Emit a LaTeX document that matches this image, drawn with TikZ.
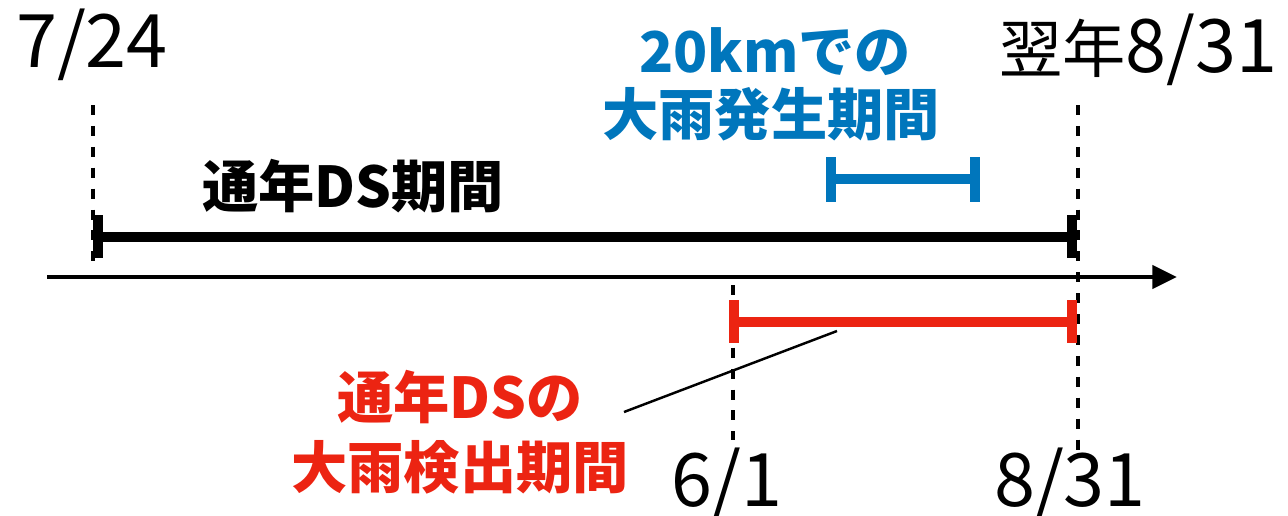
\documentclass[tikz,border=0pt]{standalone}
\usepackage{fontspec}
\setmainfont{Noto Sans CJK JP}
\usetikzlibrary{arrows.meta}
\definecolor{cblue}{RGB}{0,118,188}
\definecolor{cred}{RGB}{236,36,18}
\newcommand{\dg}[1]{{\fontsize{42}{42}\selectfont #1}}
\tikzset{
  lbl/.style={anchor=base,inner sep=0pt,font=\fontsize{36}{36}\selectfont},
  head/.style={anchor=base,inner sep=0pt,font=\fontsize{32}{32}\selectfont\bfseries},
  guide/.style={line width=2.8pt,dash pattern=on 5.7pt off 6.2pt},
  bar/.style={line width=5.4pt},
  capline/.style={line width=5.6pt},
  axis/.style={line width=2.8pt,-{Triangle[length=14pt,width=13pt]}},
  leader/.style={line width=1.4pt}
}
\begin{document}
\begin{tikzpicture}[x=0.02cm,y=-0.02cm]
\useasboundingbox (0,0) rectangle (1288,515);
% coordinates
\coordinate (gA1) at (93,105);  \coordinate (gA2) at (93,262);
\coordinate (gB1) at (1078,105); \coordinate (gB2) at (1078,450);
\coordinate (gC1) at (733,285);  \coordinate (gC2) at (733,440);
\coordinate (ax1) at (47,277);   \coordinate (ax2) at (1177,277);
% guides
\draw[guide] (gA1) -- (gA2);
\draw[guide] (gB1) -- (gB2);
\draw[guide] (gC1) -- (gC2);
% axis
\draw[axis] (ax1) -- (ax2);
% black bar
\coordinate (k1) at (93,237); \coordinate (k2) at (1077,237);
\draw[bar] (k1) -- (k2);
\draw[capline] (98,215) -- (98,258);
\draw[capline] (1072,215) -- (1072,258);
% red bar
\coordinate (r1) at (733,322); \coordinate (r2) at (1077,322);
\draw[bar,cred] (r1) -- (r2);
\draw[capline,cred] (734,300) -- (734,343);
\draw[capline,cred] (1072,300) -- (1072,343);
% blue bar
\coordinate (b1) at (826,179); \coordinate (b2) at (980,179);
\draw[bar,cblue] (b1) -- (b2);
\draw[capline,cblue] (831,157) -- (831,202);
\draw[capline,cblue] (975,157) -- (975,202);
% leader
\coordinate (l1) at (837,331); \coordinate (l2) at (624,412);
\draw[leader] (l1) -- (l2);
% labels
\node[lbl] (t724) at (92,67) {\dg{7/24}};
\node[lbl,anchor=base east] (t831top) at (1278,72) {翌年\dg{8/31}};
\node[lbl] (t61) at (727,506) {\dg{6/1}};
\node[lbl] (t831) at (1070,506) {\dg{8/31}};
\node[head] (blk) at (353,207) {通年DS期間};
\node[head,text=cblue] (bl1) at (775,72) {20kmでの};
\node[head,text=cblue] (bl2) at (771,135) {大雨発生期間};
\node[head,text=cred] (rd1) at (460,418) {通年DSの};
\node[head,text=cred] (rd2) at (460,488) {大雨検出期間};
\end{tikzpicture}
\end{document}
